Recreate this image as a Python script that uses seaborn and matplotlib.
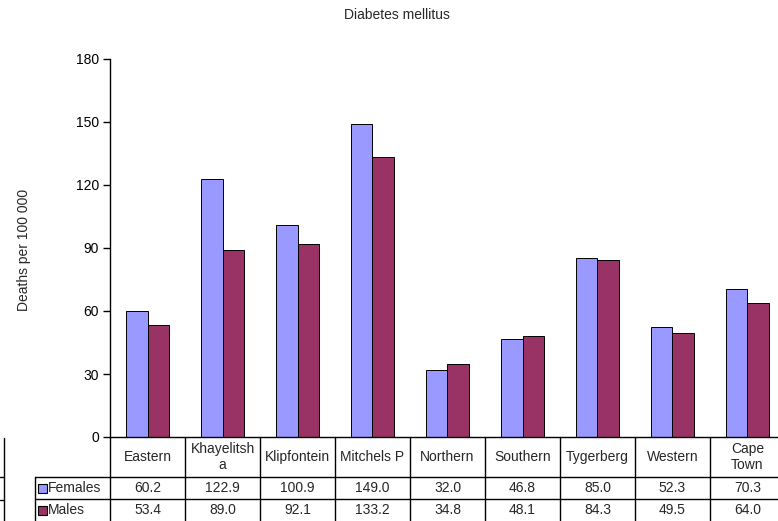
import matplotlib
matplotlib.use("Agg")
import matplotlib.pyplot as plt
import matplotlib.transforms as mtransforms
from matplotlib.lines import Line2D
from matplotlib.patches import Rectangle
import seaborn as sns
import pandas as pd

# ---- data ----
categories = ["Eastern", "Khayelitsha", "Klipfontein", "Mitchels P", "Northern",
              "Southern", "Tygerberg", "Western", "Cape Town"]
category_labels = ["Eastern", "Khayelitsh\na", "Klipfontein", "Mitchels P", "Northern",
                   "Southern", "Tygerberg", "Western", "Cape\nTown"]
females = [60.2, 122.9, 100.9, 149.0, 32.0, 46.8, 85.0, 52.3, 70.3]
males = [53.4, 89.0, 92.1, 133.2, 34.8, 48.1, 84.3, 49.5, 64.0]
series_names = ["Females", "Males"]
y_ticks = [0, 30, 60, 90, 120, 150, 180]
title = "Diabetes mellitus"
ylabel = "Deaths per 100 000"

colors = {"Females": "#9999FF", "Males": "#993366"}

df = pd.DataFrame({
    "Region": categories * 2,
    "Sex": ["Females"] * len(categories) + ["Males"] * len(categories),
    "Value": females + males,
})

sns.set_style("white")
plt.rcParams["font.family"] = ["Liberation Sans", "DejaVu Sans"]
plt.rcParams["font.size"] = 10

W, H = 778, 521
fig = plt.figure(figsize=(W / 100, H / 100), dpi=100)
ax = fig.add_axes([110 / W, (H - 437) / H, 675 / W, 378 / H])

sns.barplot(data=df, x="Region", y="Value", hue="Sex", order=categories,
            hue_order=series_names, palette=colors, width=0.57,
            edgecolor="black", linewidth=0.7, legend=False, ax=ax, saturation=1)

ax.set_xlim(-0.5, len(categories) - 0.5)
ax.set_ylim(0, 180)
ax.set_yticks(y_ticks)
ax.set_yticklabels([str(t) for t in y_ticks], fontsize=10)
ax.set_xticks([])
ax.set_xlabel("")
ax.set_ylabel("")
for s in ["top", "right"]:
    ax.spines[s].set_visible(False)
for s in ["left", "bottom"]:
    ax.spines[s].set_color("black")
    ax.spines[s].set_linewidth(1.0)
ax.tick_params(axis="y", direction="out", length=5, width=1, pad=3, left=True, colors="black")

# ---- data table below the axis ----
px = 1 / 378.0  # axes fraction per pixel
tr = mtransforms.blended_transform_factory(ax.transData, ax.transAxes)
n = len(categories)
row1_bot = -40 * px
row2_bot = -62 * px
row3_bot = -84 * px
lw = 1.0
# vertical dividers in category row and down
for k in range(n + 1):
    x = k - 0.5
    ax.add_line(Line2D([x, x], [0, row3_bot - 0.02], transform=tr, color="black", lw=lw, clip_on=False))
# row label column left border
ax.add_line(Line2D([-1.5, -1.5], [row1_bot, row3_bot - 0.02], transform=tr, color="black", lw=lw, clip_on=False))
# horizontal lines
for yy in [row1_bot, row2_bot]:
    ax.add_line(Line2D([-1.5, n - 0.5], [yy, yy], transform=tr, color="black", lw=lw, clip_on=False))

for i, lab in enumerate(category_labels):
    ax.text(i, -20 * px, lab, transform=tr, ha="center", va="center", fontsize=10,
            linespacing=1.1, clip_on=False)
    ax.text(i, -51 * px, f"{females[i]:.1f}", transform=tr, ha="center", va="center",
            fontsize=10, clip_on=False)
    ax.text(i, -73.5 * px, f"{males[i]:.1f}", transform=tr, ha="center", va="center",
            fontsize=10, clip_on=False)

# legend keys in table row headers
for name, yc in zip(series_names, [-51 * px, -73.5 * px]):
    ax.add_patch(Rectangle((-1.46, yc - 4.5 * px), 0.115, 9 * px, transform=tr,
                           facecolor=colors[name], edgecolor="black", lw=0.8, clip_on=False))
    ax.text(-1.33, yc, name, transform=tr, ha="left", va="center", fontsize=10, clip_on=False)

# stray border lines at the far left edge
fig.add_artist(Line2D([3.5 / W, 3.5 / W], [1 - 438 / H, 0], transform=fig.transFigure, color="black", lw=1))
for yy in [477, 500]:
    fig.add_artist(Line2D([0, 3.5 / W], [1 - yy / H, 1 - yy / H], transform=fig.transFigure, color="black", lw=1))

fig.text(397 / W, 1 - 15 / H, title, ha="center", va="center", fontsize=10)
fig.text(24 / W, 1 - 250 / H, ylabel, ha="center", va="center", rotation=90, fontsize=10)

fig.savefig("out.png", dpi=100)
